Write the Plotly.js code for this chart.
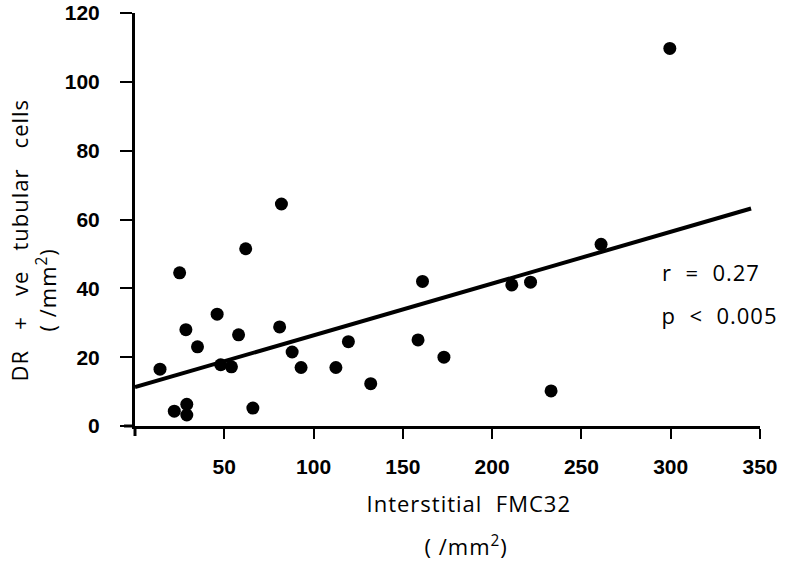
<!DOCTYPE html>
<html>
<head>
<meta charset="utf-8">
<script src="https://cdn.plot.ly/plotly-3.0.1.min.js"></script>
<style>
html,body{margin:0;padding:0;background:#fff;}
#chart{width:789px;height:561px;}
#chart .annotation-text{letter-spacing:1px;}
</style>
</head>
<body>
<div id="chart"></div>
<script>
// Scatter data: Interstitial FMC32 (/mm2) vs DR + ve tubular cells (/mm2)
const fmc32 = [14, 22, 29, 29, 25, 28.5, 35, 46, 48, 54, 58, 62, 66, 82, 81, 88, 93, 112.5, 119.5, 132, 161, 158.5, 173, 211, 221.5, 233, 261, 299.5];
const drCells = [16.5, 4.3, 6.3, 3.2, 44.5, 28, 23, 32.5, 17.8, 17.2, 26.5, 51.5, 5.2, 64.5, 28.8, 21.5, 17, 17, 24.5, 12.3, 42, 25, 20, 41, 41.8, 10.2, 52.8, 109.7];
// Regression line end points
const fitX = [0, 345];
const fitY = [11.3, 63.2];
const xTicks = [50, 100, 150, 200, 250, 300, 350];
const yTicks = [0, 20, 40, 60, 80, 100, 120];
const statLines = ["r = 0.27", "p < 0.005"];

const W = 789, H = 561;
const L = 135, R = 29, T = 13, B = 135;
const pw = W - L - R, ph = H - T - B;

const tickFont = {family: "Liberation Sans, Arial, sans-serif", size: 21, color: "#000", weight: "bold"};
const titleFont = {family: "Open Sans, sans-serif", size: 22, color: "#000"};
const sp = "&nbsp;&nbsp;";
const sp3 = "&nbsp;&nbsp;&nbsp;";

const data = [
  {x: fitX, y: fitY, mode: "lines", line: {color: "#000", width: 4}, hoverinfo: "skip", cliponaxis: false},
  {x: fmc32, y: drCells, mode: "markers", marker: {color: "#000", size: 13}, cliponaxis: false}
];

const layout = {
  width: W, height: H,
  margin: {l: L, r: R, t: T, b: B, pad: 0},
  paper_bgcolor: "#fff", plot_bgcolor: "#fff",
  showlegend: false,
  xaxis: {
    range: [0, 350], tickvals: xTicks, ticktext: xTicks.map(String),
    showgrid: false, zeroline: false, showline: true, linecolor: "#000", linewidth: 3,
    ticks: "outside", ticklen: 10, tickwidth: 2, tickcolor: "#000",
    tickfont: tickFont, ticklabelstandoff: 10, ticklabeloverflow: "allow"
  },
  yaxis: {
    range: [0, 120], tickvals: yTicks, ticktext: yTicks.map(String),
    showgrid: false, zeroline: false, showline: true, linecolor: "#000", linewidth: 3,
    ticks: "outside", ticklen: 12, tickwidth: 2, tickcolor: "#000",
    tickfont: tickFont, ticklabelstandoff: 16, ticklabeloverflow: "allow"
  },
  shapes: [
    {type: "line", xref: "paper", yref: "paper", x0: -11/pw, x1: 0, y0: 0, y1: 0, line: {color: "#000", width: 3}},
    {type: "line", xref: "paper", yref: "paper", x0: 0, x1: 0, y0: -10/ph, y1: 0, line: {color: "#000", width: 3}}
  ],
  annotations: [
    {xref: "paper", yref: "paper", x: (468 - L)/pw, y: (H - B - 503)/ph, text: "Interstitial" + sp + "FMC32", showarrow: false, font: titleFont, xanchor: "center", yanchor: "middle"},
    {xref: "paper", yref: "paper", x: (466 - L)/pw, y: (H - B - 545)/ph, text: "( /mm<sup>2</sup>)", showarrow: false, font: titleFont, xanchor: "center", yanchor: "middle"},
    {xref: "paper", yref: "paper", x: (19 - L)/pw, y: (H - B - 240)/ph, text: "DR" + sp3 + "+" + sp3 + "ve" + sp3 + "tubular" + sp3 + "cells", textangle: -90, showarrow: false, font: titleFont, xanchor: "center", yanchor: "middle"},
    {xref: "paper", yref: "paper", x: (46 - L)/pw, y: (H - B - 290)/ph, text: "( /mm<sup>2</sup>)", textangle: -90, showarrow: false, font: titleFont, xanchor: "center", yanchor: "middle"},
    {xref: "paper", yref: "paper", x: (665 - L)/pw, y: (H - B - 272)/ph, text: statLines[0].replace(/ /g, sp), showarrow: false, font: titleFont, xanchor: "left", yanchor: "middle"},
    {xref: "paper", yref: "paper", x: (665 - L)/pw, y: (H - B - 315)/ph, text: statLines[1].replace("<", "&lt;").replace(/ /g, sp), showarrow: false, font: titleFont, xanchor: "left", yanchor: "middle"}
  ]
};

Plotly.newPlot("chart", data, layout, {displayModeBar: false, staticPlot: true});
</script>
</body>
</html>
